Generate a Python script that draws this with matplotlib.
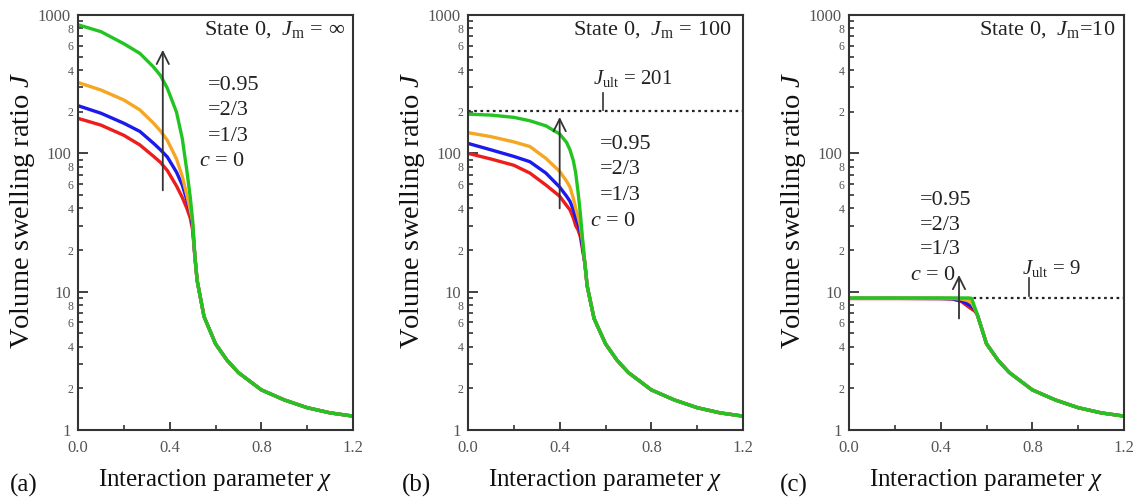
import matplotlib
matplotlib.use("Agg")
import matplotlib.pyplot as plt
from matplotlib.ticker import FixedLocator, FuncFormatter
import numpy as np

plt.rcParams['font.family'] = ['Liberation Serif', 'DejaVu Serif']
plt.rcParams['mathtext.fontset'] = 'custom'
plt.rcParams['mathtext.rm'] = 'Liberation Serif'
plt.rcParams['mathtext.it'] = 'Liberation Serif:italic'

# ---------------- data ----------------
series_labels = ["c = 0", "1/3", "2/3", "0.95"]
colors = ["#ee1c1c", "#1a1aee", "#f5a623", "#22c422"]

# shared tail for chi >= 0.6
tail_chi = [0.6, 0.65, 0.7, 0.8, 0.9, 1.0, 1.1, 1.2]
tail_J = [4.2, 3.2, 2.6, 1.95, 1.65, 1.45, 1.33, 1.26]

# panel (a): J_m = infinity
chi_a = [0, 0.1, 0.2, 0.27, 0.33, 0.36, 0.39, 0.43, 0.455, 0.475, 0.49, 0.5, 0.51, 0.52, 0.55]
red_a = [179, 160, 135, 115, 95, 86, 75, 58, 48, 40, 34, 28, 18, 12, 6.6]
blue_a = [221, 195, 165, 144, 118, 106, 94, 73, 59, 46, 38, 30, 18, 12, 6.6]
orange_a = [325, 287, 243, 206, 165, 145, 124, 91, 68, 50, 39, 32, 18, 12, 6.6]
green_a = [850, 758, 620, 528, 420, 365, 295, 198, 128, 75, 48, 33, 18, 12, 6.6]

# panel (b): J_m = 100
chi_b = [0, 0.1, 0.2, 0.27, 0.34, 0.4, 0.43, 0.445, 0.46, 0.47, 0.48, 0.49, 0.5, 0.51, 0.52, 0.55]
red_b = [100, 91, 82, 72, 59, 49, 42, 39, 34, 30, 28, 25, 20, 16, 11, 6.4]
blue_b = [118, 106, 95, 87, 72, 57, 49, 45, 39, 34, 31, 27, 21, 16, 11, 6.4]
orange_b = [141, 132, 121, 112, 92, 74, 63, 57, 47, 40, 35, 30, 23, 16, 11, 6.4]
green_b = [192, 189, 182, 172, 158, 138, 120, 106, 88, 72, 53, 37, 24, 16, 11, 6.4]
J_ult_b = 201

# panel (c): J_m = 10
chi_c = [0, 0.2, 0.4, 0.45, 0.49, 0.52, 0.535, 0.55, 0.56, 0.572]
red_c = [8.92, 8.92, 8.9, 8.85, 8.5, 7.8, 7.5, 7.2, 6.8, 5.9]
blue_c = [8.95, 8.95, 8.93, 8.9, 8.6, 8.1, 7.8, 7.4, 6.8, 5.9]
orange_c = [8.97, 8.97, 8.96, 8.95, 8.85, 8.6, 8.3, 7.5, 6.8, 5.9]
green_c = [9.0, 9.0, 9.0, 9.0, 9.0, 9.0, 8.95, 7.6, 6.8, 5.9]
J_ult_c = 9

x_ticks = [0.0, 0.4, 0.8, 1.2]
x_minor = [0.2, 0.6, 1.0]
y_major = [1, 10, 100, 1000]

panels = [
    dict(chi=chi_a, ys=[red_a, blue_a, orange_a, green_a], tag="(a)",
         title=r"State 0,  $J_{\mathrm{m}}$ = ∞", jult=None,
         arrow=(0.37, 54, 560)),
    dict(chi=chi_b, ys=[red_b, blue_b, orange_b, green_b], tag="(b)",
         title=r"State 0,  $J_{\mathrm{m}}$ = 100", jult=J_ult_b,
         arrow=(0.40, 40, 183)),
    dict(chi=chi_c, ys=[red_c, blue_c, orange_c, green_c], tag="(c)",
         title=r"State 0,  $J_{\mathrm{m}}$=10", jult=J_ult_c,
         arrow=(0.48, 6.4, 13.2)),
]

W, H = 1146, 499
fig = plt.figure(figsize=(W / 100, H / 100), dpi=100)

lefts_px = [78, 468, 849]
tag_px = [10, 402, 780]
ax_w, top_px, bot_px = 275, 15, 430

# label positions (axes fractions)
c_label_pos = [
    dict(vals=(0.474, [0.829, 0.769, 0.708]), c0=(0.44, 0.647)),
    dict(vals=(0.48, [0.689, 0.627, 0.566]), c0=(0.444, 0.502)),
    dict(vals=(0.258, [0.554, 0.492, 0.434]), c0=(0.222, 0.373)),
]
title_x = [0.971, 0.959, 0.967]
jult_text = [None, (0.456, 0.847, 0.59, 205, 275), (0.628, 0.39, 0.785, 9.25, 12.5)]

tick_color = "#555555"
text_color = "#222222"

for i, p in enumerate(panels):
    ax = fig.add_axes([lefts_px[i] / W, (H - bot_px) / H, ax_w / W, (bot_px - top_px) / H])
    ax.set_yscale('log')
    ax.set_xlim(0, 1.2)
    ax.set_ylim(1, 1000)

    if p["jult"] is not None:
        ax.axhline(p["jult"], color="#222222", lw=1.6, ls=(0, (1.2, 1.6)), zorder=1)

    for y, col in zip(p["ys"], colors):
        xx = list(p["chi"]) + tail_chi
        yy = list(y) + tail_J
        ax.plot(xx, yy, color=col, lw=2.4, zorder=2, solid_capstyle='round',
                solid_joinstyle='round')

    # arrow
    ax_x, a0, a1 = p["arrow"]
    ax.annotate('', xy=(ax_x, a1), xytext=(ax_x, a0),
                arrowprops=dict(arrowstyle='->', color='#333333', lw=1.3,
                                mutation_scale=22, shrinkA=0, shrinkB=0), zorder=3)

    # ticks
    ax.xaxis.set_major_locator(FixedLocator(x_ticks))
    ax.xaxis.set_minor_locator(FixedLocator(x_minor))
    ax.xaxis.set_major_formatter(FuncFormatter(lambda v, pos: f"{v:.1f}"))
    ax.yaxis.set_major_locator(FixedLocator(y_major))
    ax.yaxis.set_major_formatter(FuncFormatter(lambda v, pos: f"{int(round(v))}"))
    minors = [m * 10 ** d for d in range(3) for m in range(2, 10)]
    ax.yaxis.set_minor_locator(FixedLocator(minors))

    def minor_fmt(v, pos):
        m = int(round(v / 10 ** np.floor(np.log10(v) + 1e-9)))
        return str(m) if m in (2, 4, 6, 8) else ""
    ax.yaxis.set_minor_formatter(FuncFormatter(minor_fmt))

    ax.tick_params(axis='both', which='both', direction='in', color='#333333',
                   labelcolor=tick_color, right=False, top=False)
    ax.tick_params(axis='x', which='major', length=6, width=1.3, labelsize=12, pad=7)
    ax.tick_params(axis='x', which='minor', length=3.5, width=1.2)
    ax.tick_params(axis='y', which='major', length=7, width=1.3, labelsize=12, pad=5)
    ax.tick_params(axis='y', which='minor', length=3.5, width=1.2, labelsize=8.5, pad=3)

    for s in ax.spines.values():
        s.set_linewidth(1.5)
        s.set_color('#333333')

    ax.set_xlabel(r"Interaction parameter $\chi$", fontsize=18, color='#111111')
    ax.set_ylabel(r"Volume swelling ratio $J$", fontsize=20.5, color='#111111')
    ax.xaxis.set_label_coords(0.5, -0.089)
    ax.yaxis.set_label_coords(-0.15, 0.53)

    ax.text(title_x[i], 0.964, p["title"], transform=ax.transAxes, ha='right',
            va='center', fontsize=16, color=text_color)

    vx, vys = c_label_pos[i]["vals"]
    for lab, vy in zip(["=0.95", "=2/3", "=1/3"], vys):
        ax.text(vx, vy, lab, transform=ax.transAxes, ha='left', va='center',
                fontsize=16, color=text_color)
    cx, cy = c_label_pos[i]["c0"]
    ax.text(cx, cy, r"$c$ = 0", transform=ax.transAxes, ha='left', va='center',
            fontsize=16, color=text_color)

    if jult_text[i] is not None:
        tx, ty, lx, l0, l1 = jult_text[i]
        ax.text(tx, ty, r"$J_{\mathrm{ult}}$ = " + str(p["jult"]), transform=ax.transAxes,
                ha='left', va='center', fontsize=15, color=text_color)
        ax.plot([lx, lx], [l0, l1], color='#333333', lw=1.2)

    fig.text(tag_px[i] / W, (H - 485) / H, p["tag"], ha='left', va='center',
             fontsize=18, color='#111111')

fig.savefig("out.png", dpi=100)
